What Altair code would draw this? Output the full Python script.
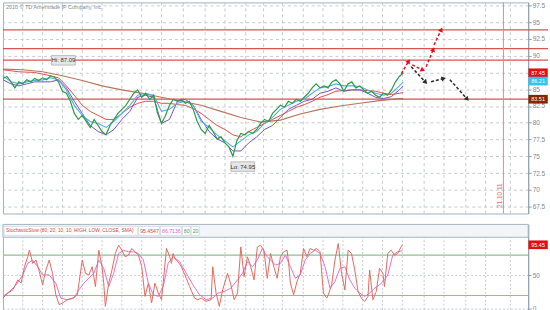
import math
import altair as alt
import pandas as pd

# ---------------- data ----------------
close_bar = list(range(0, 102))
close_val = [86.6, 86.9, 86.1, 85.2, 86.1, 85.8, 86.4, 86.1, 86.6, 86.3,
             86.7, 86.4, 87.0, 86.8, 86.1, 84.7, 84.4, 83.2, 81.4, 80.5,
             81.1, 80.2, 79.3, 80.5, 79.6, 78.7, 78.2, 79.6, 80.5, 81.4,
             82.0, 82.6, 83.5, 84.4, 84.9, 83.8, 84.4, 83.5, 84.1, 81.4,
             79.9, 81.1, 82.6, 83.5, 83.2, 83.5, 82.9, 83.2, 82.0, 80.2,
             79.0, 78.4, 79.6, 78.7, 77.6, 77.9, 77.0, 76.4, 75.0, 77.3,
             78.4, 78.2, 78.7, 78.4, 79.0, 79.9, 80.5, 80.2, 81.4, 82.0,
             82.6, 82.3, 83.2, 82.9, 83.5, 83.2, 83.8, 84.4, 85.2, 85.8,
             85.2, 85.5, 85.2, 86.1, 86.4, 85.8, 84.7, 85.8, 86.1, 85.2,
             85.5, 84.9, 84.4, 84.7, 84.1, 83.8, 84.4, 84.1, 84.9, 86.1,
             86.9, 87.45]

ma_bar = [0, 2, 4, 6, 8, 10, 12, 14, 16, 18, 20, 22, 24, 26, 28, 30, 32, 34,
          36, 38, 40, 42, 44, 46, 48, 50, 52, 54, 56, 58, 60, 62, 64, 66, 68,
          70, 72, 74, 76, 78, 80, 82, 84, 86, 88, 90, 92, 94, 96, 98, 100, 101]
blue_val = [87.0, 86.1, 85.8, 86.1, 86.3, 86.4, 86.7, 86.4, 84.9, 82.6, 81.1,
            80.2, 79.9, 79.3, 80.2, 81.4, 82.6, 84.1, 84.4, 84.1, 81.7, 82.0,
            82.9, 83.2, 82.6, 80.2, 79.3, 78.2, 77.3, 76.4, 77.3, 78.2, 78.7,
            79.9, 80.8, 82.0, 82.6, 83.2, 83.5, 84.4, 85.2, 85.4, 85.8, 85.5,
            85.5, 85.4, 84.9, 84.4, 84.1, 84.4, 85.5, 86.1]
purple_val = [86.4, 85.8, 85.5, 85.8, 86.1, 86.1, 86.1, 86.4, 85.2, 83.2, 81.4,
              79.6, 78.7, 78.2, 79.0, 80.5, 81.7, 83.8, 84.1, 83.8, 79.9, 80.5,
              83.2, 83.5, 82.6, 80.5, 78.7, 77.6, 77.0, 75.8, 75.8, 77.0, 77.9,
              79.0, 79.6, 80.8, 82.0, 82.6, 83.2, 83.5, 84.4, 84.7, 85.2, 84.7,
              84.9, 84.9, 84.4, 83.8, 83.6, 83.9, 84.9, 85.5]

red_bar = [0, 4, 8, 12, 14, 16, 18, 20, 22, 24, 26, 28, 30, 32, 34, 36, 38, 40,
           42, 44, 46, 48, 50, 52, 54, 56, 58, 60, 62, 64, 66, 68, 70, 72, 74,
           76, 78, 80, 82, 84, 86, 88, 90, 92, 94, 96, 98, 100, 101]
red_val = [87.9, 87.6, 87.5, 87.0, 86.7, 85.5, 84.1, 82.6, 81.7, 81.1, 80.5,
           80.5, 81.4, 82.3, 82.9, 83.2, 83.2, 82.9, 82.9, 82.7, 82.6, 82.1,
           81.4, 80.5, 79.6, 79.0, 78.2, 77.9, 78.7, 79.3, 79.9, 80.5, 81.1,
           81.7, 82.3, 82.7, 83.2, 83.8, 84.2, 84.7, 84.8, 84.9, 84.9, 84.8,
           84.7, 84.4, 84.2, 84.4, 84.5]

brown_bar = [0, 5, 10, 15, 20, 25, 30, 35, 40, 45, 50, 55, 60, 65, 70, 75, 80,
             85, 90, 95, 100, 101]
brown_val = [88.0, 87.9, 87.6, 87.0, 86.3, 85.5, 84.9, 84.4, 83.8, 83.2, 82.6,
             81.7, 80.8, 80.1, 80.4, 81.3, 82.0, 82.5, 82.9, 83.3, 83.6, 83.6]

level_val = [93.85, 91.04, 89.33, 83.51]
price_ticks = [67.5, 70, 72.5, 75, 77.5, 80, 82.5, 85, 87.5, 90, 92.5, 95, 97.5]
grid_bar = [5, 10, 15, 20, 25, 30, 35, 40, 45.5, 51, 56, 61.25, 65.75, 70.5,
            75.75, 80.75, 85.75, 90.75, 95.75, 100.75, 106.25, 111.25, 116.75,
            121.75, 128]
date_bar = [126.25]
date_label = ["21.10.11"]

hi_label = ["Hi: 87.09"]
hi_bar = [12.5]
hi_val = [87.09]
lo_label = ["Lo: 74.95"]
lo_bar = [58]
lo_val = [74.95]

# arrows (bar, price) start -> end
red_arrow_x1 = [100.5, 103.25, 106.75, 108.75]
red_arrow_y1 = [87.31, 88.63, 88.34, 91.59]
red_arrow_x2 = [102.25, 105.75, 108.5, 110.5]
red_arrow_y2 = [89.08, 87.90, 90.85, 93.80]
blk_arrow_x1 = [103.0, 108.0, 112.75]
blk_arrow_y1 = [88.34, 86.12, 86.42]
blk_arrow_x2 = [106.5, 111.0, 117.0]
blk_arrow_y2 = [86.12, 86.57, 83.61]

tag_val = [87.45, 86.21, 83.51]
tag_text = ["87.45", "86.21", "83.51"]
tag_color = ["#e01010", "#33c3f0", "#8b2500"]

k_bar = [0, 1.25, 2.5, 3.75, 4.58, 5.42, 6.25, 6.67, 7.5, 8.33, 9.17, 10, 10.83,
         11.67, 12.5, 13.33, 14.17, 15, 16.25, 17.5, 18.75, 20, 20.83, 21.67,
         22.5, 23.33, 24.17, 25, 25.42, 25.83, 26.67, 27.5, 28.33, 29.17, 30,
         30.83, 31.67, 32.5, 33.33, 34.17, 35, 35.83, 36.67, 37.5, 38.33, 39.17,
         40, 41.25, 42.08, 42.5, 42.92, 43.33, 44.17, 45, 46.25, 47.08, 48.33,
         49.17, 50, 51.25, 52.5, 52.92, 53.75, 54.58, 55.42, 56.67, 57.5, 58.33,
         59.17, 60, 60.83, 61.67, 62.5, 63.33, 64.17, 65, 65.83, 66.67, 67.5,
         68.33, 69.17, 70, 70.83, 71.67, 72.08, 72.5, 73.33, 74.17, 75, 75.83,
         76.67, 77.5, 78.33, 79.17, 80, 80.83, 81.67, 82.08, 82.92, 83.75, 84.58,
         85.42, 86.25, 87.08, 87.92, 88.75, 89.58, 90.42, 91.25, 92.08, 92.5,
         93.33, 94.17, 95, 95.83, 96.25, 97.08, 97.92, 98.75, 99.58, 100.42,
         100.83]
k_val = [16.1, 23.5, 28.4, 43.2, 38.3, 62.8, 77.6, 87.4, 67.8, 72.7, 55.5, 35.8,
         57.9, 72.7, 53.0, 21.0, 6.3, 8.8, 13.7, 16.1, 21.0, 72.7, 53.0, 50.5,
         62.8, 33.3, 87.4, 62.8, 38.3, 3.8, 38.3, 57.9, 82.5, 94.8, 87.4, 77.6,
         80.1, 89.9, 85.0, 80.1, 62.8, 18.6, 38.3, 8.8, 38.3, 23.5, 13.7, 89.9,
         77.6, 67.8, 82.5, 75.1, 70.2, 62.8, 45.6, 33.3, 16.1, 13.7, 16.1, 11.2,
         13.7, 62.8, 23.5, 3.8, 28.4, 53.0, 35.8, 13.7, 23.5, 92.3, 48.1, 77.6,
         62.8, 43.2, 92.3, 94.8, 87.4, 45.6, 82.5, 62.8, 45.6, 77.6, 85.0, 87.4,
         67.8, 38.3, 21.0, 40.7, 53.0, 89.9, 77.6, 89.9, 87.4, 89.9, 85.0, 23.5,
         16.1, 21.0, 35.8, 72.7, 97.3, 53.0, 28.4, 87.4, 82.5, 57.9, 26.0, 16.1,
         11.2, 18.6, 57.9, 13.7, 26.0, 60.4, 53.0, 33.3, 82.5, 87.4, 80.1, 82.5,
         92.3, 95.5]
d_bar = [0, 1.67, 3.33, 5, 6.25, 7.5, 8.75, 10, 11.67, 13.33, 14.58, 16.25,
         17.92, 19.17, 20.42, 21.67, 22.92, 24.17, 25.42, 26.67, 27.92, 29.17,
         30.42, 31.67, 32.92, 34.17, 35.42, 36.67, 37.92, 39.17, 40.42, 41.67,
         42.92, 44.58, 46.25, 47.92, 49.58, 51.25, 52.92, 54.17, 55.83, 57.5,
         59.17, 60.42, 61.67, 62.92, 64.17, 65.42, 66.67, 67.5, 68.75, 70, 71.25,
         72.5, 73.75, 75, 76.25, 77.5, 78.75, 80, 81.25, 82.5, 83.75, 85, 86.25,
         87.5, 88.75, 90, 91.25, 92.5, 93.75, 95, 96.25, 97.08, 98.33, 99.58,
         100.83]
d_val = [18.6, 26.0, 35.8, 50.5, 67.8, 72.7, 62.8, 50.5, 50.5, 38.3, 16.1, 13.7,
         16.1, 28.4, 38.3, 45.6, 53.0, 72.7, 60.4, 33.3, 53.0, 82.5, 87.4, 85.0,
         85.0, 82.5, 72.7, 38.3, 21.0, 18.6, 33.3, 67.8, 77.6, 70.2, 53.0, 35.8,
         21.0, 13.7, 16.1, 23.5, 26.0, 30.9, 43.2, 53.0, 70.2, 62.8, 72.7, 89.9,
         77.6, 72.7, 65.3, 67.8, 80.1, 62.8, 45.6, 50.5, 72.7, 82.5, 87.4, 82.5,
         62.8, 30.9, 40.7, 60.4, 62.8, 43.2, 30.9, 23.5, 18.6, 23.5, 30.9, 35.8,
         43.2, 50.5, 80.1, 85.0, 86.7]
stoch_levels = [80, 20]
stoch_ticks = [0, 50]
stoch_tag_val = [95.45]
stoch_tag_text = ["95.45"]
header_main = "StochasticSlow (80, 20, 10, 10, HIGH, LOW, CLOSE, SMA)"
header_k = "95.4547"
header_d = "86.7136"
header_hi = "80"
header_lo = "20"
copyright_text = "2010 © TD Ameritrade IP Company, Inc."

# ---------------- layout ----------------
W = 530
H_P = 213
H_S = 88
X_MAX = 132.5
P_MIN, P_MAX = 66.48, 97.94
S_MIN, S_MAX = -4.0, 125.8
FONT = "Liberation Sans Narrow, Liberation Sans, Arial"
GRID = "#c4c9cf"
AXC = "#8d9cab"

xs = alt.Scale(domain=[0, X_MAX], nice=False, zero=False)
ps = alt.Scale(domain=[P_MIN, P_MAX], nice=False, zero=False)
ss = alt.Scale(domain=[S_MIN, S_MAX], nice=False, zero=False)

def X(f="bar"):
    return alt.X(f"{f}:Q", scale=xs, axis=None)

def PY(f="price"):
    return alt.Y(f"{f}:Q", scale=ps, axis=alt.Axis(
        orient="right", values=price_ticks, format=".1~f", grid=True, gridDash=[3, 3],
        gridColor=GRID, labelFontSize=6.5, labelFont=FONT, labelColor="#7c8894",
        tickSize=3, tickColor=AXC, domainColor=AXC, labelPadding=1, title=None))

def SY(f="v"):
    return alt.Y(f"{f}:Q", scale=ss, axis=alt.Axis(
        orient="right", values=stoch_ticks, grid=True, gridDash=[2, 2],
        gridColor=GRID, labelFontSize=6.5, labelFont=FONT, labelColor="#7c8894",
        tickSize=3, tickColor=AXC, domainColor=AXC, labelPadding=1, title=None))

one = pd.DataFrame({"a": [0]})
grid_df = pd.DataFrame({"bar": grid_bar})
close_df = pd.DataFrame({"bar": close_bar, "price": close_val})
blue_df = pd.DataFrame({"bar": ma_bar, "price": blue_val})
purple_df = pd.DataFrame({"bar": ma_bar, "price": purple_val})
red_df = pd.DataFrame({"bar": red_bar, "price": red_val})
brown_df = pd.DataFrame({"bar": brown_bar, "price": brown_val})
level_df = pd.DataFrame({"price": level_val})
date_df = pd.DataFrame({"bar": date_bar, "label": date_label})

def arrows(x1, y1, x2, y2):
    rows = []
    for a, b, c, d in zip(x1, y1, x2, y2):
        dx = (c - a) * W / X_MAX
        dy = -(d - b) * H_P / (P_MAX - P_MIN)
        ang = math.degrees(math.atan2(dx, -dy)) % 360
        rows.append({"bar": a, "price": b, "bar2": c, "price2": d, "ang": ang})
    return pd.DataFrame(rows)

red_arr = arrows(red_arrow_x1, red_arrow_y1, red_arrow_x2, red_arrow_y2)
blk_arr = arrows(blk_arrow_x1, blk_arrow_y1, blk_arrow_x2, blk_arrow_y2)

vgrid = alt.Chart(grid_df).mark_rule(strokeDash=[3, 3], color=GRID, strokeWidth=1).encode(x=X())
axis_layer = alt.Chart(level_df).mark_rule(opacity=0).encode(y=PY())
levels = alt.Chart(level_df).mark_rule(color="#d9534f", strokeWidth=1.3).encode(
    y=PY(), x=alt.value(0), x2=alt.value(550))
vdate = alt.Chart(date_df).mark_rule(color="#e58a8a", strokeWidth=1).encode(x=X())
vdate_txt = alt.Chart(date_df).mark_text(angle=270, fontSize=6.5, font=FONT,
                                         color="#e07070", dx=0, dy=-3).encode(
    x=X(), y=alt.value(195), text="label:N")

def line(df, color, w=1.0):
    return alt.Chart(df).mark_line(color=color, strokeWidth=w).encode(x=X(), y=PY())

brown = line(brown_df, "#b9735a", 1.1)
red = line(red_df, "#e0504a", 1.0)
purple = line(purple_df, "#6f55c8", 1.0)
blue = line(blue_df, "#55aee6", 1.1)
price = line(close_df, "#2f9a45", 1.2)

def arrow_layers(df, color):
    shaft = alt.Chart(df).mark_rule(color=color, strokeWidth=1.5, strokeDash=[3, 2]).encode(
        x=X(), y=PY(), x2="bar2:Q", y2="price2:Q")
    head = alt.Chart(df).mark_point(shape="triangle", filled=True, size=28,
                                    color=color, opacity=1).encode(
        x=X("bar2"), y=PY("price2"), angle=alt.Angle("ang:Q", scale=None))
    return shaft + head

box_path = "M-1,-0.4L1,-0.4L1,0.4L-1,0.4Z"
hi_df = pd.DataFrame({"bar": hi_bar, "price": hi_val, "label": hi_label})
lo_df = pd.DataFrame({"bar": lo_bar, "price": lo_val, "label": lo_label})
hi_box = alt.Chart(hi_df).mark_point(shape=box_path, size=576, filled=True, fill="#e6e6e6",
                                      stroke="#9a9a9a", strokeWidth=0.6, opacity=1,
                                      xOffset=11, yOffset=-15).encode(x=X(), y=PY())
hi_txt = alt.Chart(hi_df).mark_text(fontSize=6, font=FONT, color="#333333",
                                     dx=11, dy=-15).encode(x=X(), y=PY(), text="label:N")
lo_box = alt.Chart(lo_df).mark_point(shape=box_path, size=576, filled=True, fill="#e6e6e6",
                                      stroke="#9a9a9a", strokeWidth=0.6, opacity=1,
                                      xOffset=10, yOffset=10).encode(x=X(), y=PY())
lo_txt = alt.Chart(lo_df).mark_text(fontSize=6, font=FONT, color="#333333",
                                     dx=10, dy=10).encode(x=X(), y=PY(), text="label:N")

tag_df = pd.DataFrame({"price": tag_val, "t": tag_text, "c": tag_color})
tags = alt.Chart(tag_df).mark_point(shape="M-1,-0.45L1,-0.45L1,0.45L-1,0.45Z", size=380,
                                    filled=True, opacity=1).encode(
    x=alt.value(540), y=PY(), fill=alt.Fill("c:N", scale=None))
tags_txt = alt.Chart(tag_df).mark_text(fontSize=5.5, font=FONT, color="white").encode(
    x=alt.value(540), y=PY(), text="t:N")

copy_txt = alt.Chart(one).mark_text(align="left", baseline="middle", fontSize=5.5,
                                    font=FONT, color="#8a8a8a").encode(
    x=alt.value(3), y=alt.value(5), text=alt.value(copyright_text))

price_chart = alt.layer(
    vgrid, axis_layer, levels, vdate, vdate_txt, brown, red, purple, blue, price,
    arrow_layers(red_arr, "#e0101e"), arrow_layers(blk_arr, "#2a2a2a"),
    hi_box, hi_txt, lo_box, lo_txt, tags, tags_txt, copy_txt
).properties(width=W, height=H_P)

# ---------------- stochastic pane ----------------
k_df = pd.DataFrame({"bar": k_bar, "v": k_val})
d_df = pd.DataFrame({"bar": d_bar, "v": d_val})
sl_df = pd.DataFrame({"v": stoch_levels})
st_df = pd.DataFrame({"v": stoch_tag_val, "t": stoch_tag_text})

s_vgrid = alt.Chart(grid_df).mark_rule(strokeDash=[2, 2], color=GRID, strokeWidth=1).encode(x=X())
s_axis = alt.Chart(sl_df).mark_rule(color="#8fbf8f", strokeWidth=1.2).encode(y=SY())
k_line = alt.Chart(k_df).mark_line(color="#e4695e", strokeWidth=1).encode(x=X(), y=SY())
d_line = alt.Chart(d_df).mark_line(color="#e26fd2", strokeWidth=1).encode(x=X(), y=SY())
header = alt.Chart(one).mark_rect(fill="#f3f5f8", stroke="#a7b5c4", strokeWidth=1).encode(
    x=alt.value(0), x2=alt.value(530), y=alt.value(0), y2=alt.value(13))

def hbox(x1, x2):
    return alt.Chart(one).mark_rect(fill="white", stroke="#c3ccd6", strokeWidth=0.6).encode(
        x=alt.value(x1), x2=alt.value(x2), y=alt.value(2), y2=alt.value(11))

def htxt(x, txt, color, size=5.2):
    return alt.Chart(one).mark_text(align="left", baseline="middle", fontSize=size,
                                    font=FONT, color=color).encode(
        x=alt.value(x), y=alt.value(6.5), text=alt.value(txt))

s_tag = alt.Chart(st_df).mark_point(shape="M-1,-0.45L1,-0.45L1,0.45L-1,0.45Z", size=380,
                                    filled=True, fill="#e01010", opacity=1).encode(
    x=alt.value(540), y=SY())
s_tag_txt = alt.Chart(st_df).mark_text(fontSize=5.5, font=FONT, color="white").encode(
    x=alt.value(540), y=SY(), text="t:N")

stoch_chart = alt.layer(
    s_vgrid, s_axis, d_line, k_line, header,
    hbox(1, 136), hbox(137, 158), hbox(159, 180), hbox(181, 189), hbox(190, 198),
    htxt(3, header_main, "#d9443c", 4.9), htxt(138.5, header_k, "#d9443c"),
    htxt(160.5, header_d, "#d65fd0"), htxt(182.5, header_hi, "#4f9a4f"),
    htxt(191.5, header_lo, "#4f9a4f"), s_tag, s_tag_txt
).properties(width=W, height=H_S)

chart = alt.vconcat(price_chart, stoch_chart, spacing=9).properties(
    padding={"left": 0, "top": 0, "right": 0, "bottom": 0}
).configure(background="white").configure_view(stroke="#9fb0c2", strokeWidth=1)

chart.save("out.html", embed_options={"renderer": "svg", "actions": False})
